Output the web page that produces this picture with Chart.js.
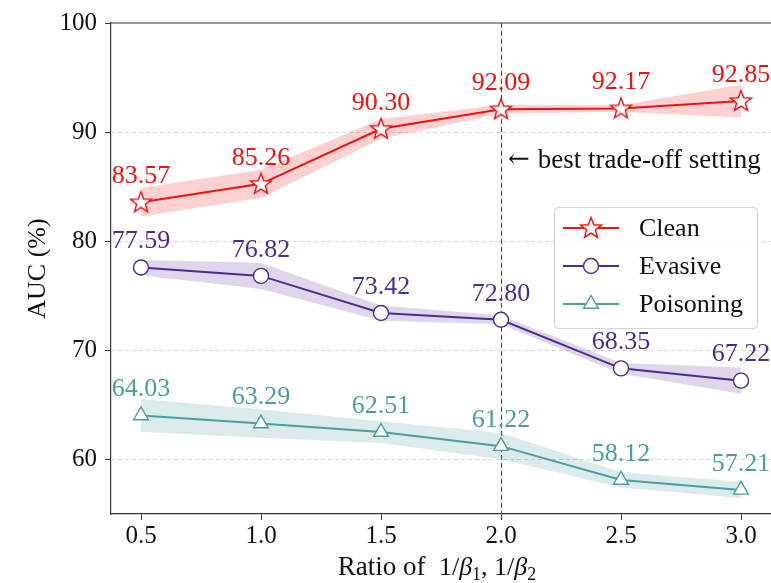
<!DOCTYPE html>
<html>
<head>
<meta charset="utf-8">
<script src="https://cdn.jsdelivr.net/npm/chart.js@4/dist/chart.umd.min.js"></script>
<style>
  body { margin: 0; background: #fff; }
  #wrap { width: 771px; height: 583px; position: relative; }
</style>
</head>
<body>
<div id="wrap"><canvas id="auc-chart"></canvas></div>
<script>
// data
const ratios = [0.5, 1.0, 1.5, 2.0, 2.5, 3.0];
const cleanAuc = [83.57, 85.26, 90.30, 92.09, 92.17, 92.85];
const evasiveAuc = [77.59, 76.82, 73.42, 72.80, 68.35, 67.22];
const poisonAuc = [64.03, 63.29, 62.51, 61.22, 58.12, 57.21];
// half-width of the shaded bands
const cleanErr = [1.3, 1.3, 0.9, 0.4, 0.3, 1.5];
const evasiveErr = [0.7, 1.2, 0.7, 0.4, 0.5, 1.2];
const poisonErr = [1.5, 1.3, 1.0, 1.2, 0.7, 0.75];
const yTicks = [60, 70, 80, 90, 100];
const seriesNames = ["Clean", "Evasive", "Poisoning"];

const FONT = "'Liberation Serif', 'DejaVu Serif', serif";
const RED = "#ee1111";
const PURPLE = "#4e2b92";
const TEAL = "#4b9da0";

//5-point star marker drawn on a small canvas
const makeStar = (color) => {
  const c = document.createElement("canvas");
  c.width = 26;
  c.height = 26;
  const g = c.getContext("2d");
  g.beginPath();
  for (let i = 0; i < 10; i++) {
    const r = i % 2 === 0 ? 11 : 4.6;
    const a = -Math.PI / 2 + (i * Math.PI) / 5;
    const px = 13 + r * Math.cos(a);
    const py = 13.5 + r * Math.sin(a);
    if (i === 0) g.moveTo(px, py);
    else g.lineTo(px, py);
  }
  g.closePath();
  g.fillStyle = "white";
  g.fill();
  g.lineWidth = 1.4;
  g.strokeStyle = color;
  g.stroke();
  return c;
};
const starImg = makeStar(RED);

const pts = (vals) => vals.map((v, i) => ({ x: ratios[i], y: v }));
const band = (vals, err, sign) => vals.map((v, i) => ({ x: ratios[i], y: v + sign * err[i] }));

const lineSet = (label, vals, color, style, radius) => ({
  label: label,
  data: pts(vals),
  borderColor: color,
  backgroundColor: "white",
  borderWidth: 2,
  pointStyle: style,
  pointRadius: radius,
  pointBorderWidth: 1.4,
  pointBorderColor: color,
  pointBackgroundColor: "white",
  tension: 0,
  fill: false,
});
const bandSet = (vals, err, sign, fillColor) => ({
  label: "",
  data: band(vals, err, sign),
  borderWidth: 0,
  borderColor: "transparent",
  pointRadius: 0,
  backgroundColor: fillColor,
  fill: sign < 0 ? "-1" : false,
});

const datasets = [
  lineSet(seriesNames[0], cleanAuc, RED, starImg, 11),
  lineSet(seriesNames[1], evasiveAuc, PURPLE, "circle", 7.5),
  lineSet(seriesNames[2], poisonAuc, TEAL, "triangle", 8.5),
  bandSet(cleanAuc, cleanErr, 1, "rgba(255,40,40,0.22)"),
  bandSet(cleanAuc, cleanErr, -1, "rgba(255,40,40,0.22)"),
  bandSet(evasiveAuc, evasiveErr, 1, "rgba(110,70,170,0.22)"),
  bandSet(evasiveAuc, evasiveErr, -1, "rgba(110,70,170,0.22)"),
  bandSet(poisonAuc, poisonErr, 1, "rgba(75,157,160,0.2)"),
  bandSet(poisonAuc, poisonErr, -1, "rgba(75,157,160,0.2)"),
];

const extrasPlugin = {
  id: "extras",
  beforeDatasetsDraw(chart) {
    const { ctx, chartArea: a, scales } = chart;
    ctx.save();
    // dashed horizontal grid
    ctx.strokeStyle = "#d6d6d6";
    ctx.lineWidth = 1;
    ctx.setLineDash([4, 3]);
    yTicks.forEach((v) => {
      if (v === 100) return;
      const y = Math.round(scales.y.getPixelForValue(v)) + 0.5;
      ctx.beginPath();
      ctx.moveTo(a.left, y);
      ctx.lineTo(a.right, y);
      ctx.stroke();
    });
    // vertical dashed marker at 2.0
    const xm = Math.round(scales.x.getPixelForValue(2.0)) + 0.5;
    ctx.strokeStyle = "#555";
    ctx.lineWidth = 1.2;
    ctx.setLineDash([5, 3]);
    ctx.beginPath();
    ctx.moveTo(xm, a.top);
    ctx.lineTo(xm, a.bottom);
    ctx.stroke();
    ctx.restore();
  },
  afterDatasetsDraw(chart) {
    const { ctx, chartArea: a, scales } = chart;
    ctx.save();
    // value labels
    ctx.font = "26px " + FONT;
    ctx.textAlign = "center";
    ctx.textBaseline = "middle";
    for (let d = 0; d < 3; d++) {
      const meta = chart.getDatasetMeta(d);
      const ds = chart.data.datasets[d];
      ctx.fillStyle = ds.borderColor;
      meta.data.forEach((p, i) => {
        ctx.fillText(ds.data[i].y.toFixed(2), p.x, p.y - 26);
      });
    }
    // x tick labels
    ctx.fillStyle = "#111";
    ctx.font = "25px " + FONT;
    ctx.textBaseline = "top";
    ratios.forEach((v) => {
      ctx.fillText(v.toFixed(1), scales.x.getPixelForValue(v), a.bottom + 10);
    });
    // annotation
    ctx.textBaseline = "middle";
    ctx.textAlign = "left";
    const ax = scales.x.getPixelForValue(2.0) + 7;
    ctx.font = "26px 'DejaVu Serif'";
    ctx.fillText("\u2190", ax, 160);
    const aw = ctx.measureText("\u2190").width + 8;
    ctx.font = "27px " + FONT;
    ctx.fillText("best trade-off setting", ax + aw, 161);

    // top frame line
    ctx.strokeStyle = "#333";
    ctx.lineWidth = 1.2;
    ctx.beginPath();
    ctx.moveTo(a.left, a.top);
    ctx.lineTo(a.right, a.top);
    ctx.stroke();

    // legend box
    const lx = 554, ly = 207, lw = 203, lh = 121;
    ctx.fillStyle = "rgba(255,255,255,0.85)";
    ctx.strokeStyle = "#d4d4d4";
    ctx.lineWidth = 1;
    ctx.beginPath();
    ctx.roundRect(lx + 0.5, ly + 0.5, lw, lh, 4);
    ctx.fill();
    ctx.stroke();
    const rowY = [228, 266, 304];
    ctx.font = "26px " + FONT;
    ctx.textBaseline = "middle";
    for (let d = 0; d < 3; d++) {
      const ds = chart.data.datasets[d];
      const y = rowY[d];
      ctx.strokeStyle = ds.borderColor;
      ctx.lineWidth = 2;
      ctx.beginPath();
      ctx.moveTo(563, y);
      ctx.lineTo(619, y);
      ctx.stroke();
      if (d === 0) {
        ctx.drawImage(starImg, 591 - 13, y - 13);
      } else {
        ctx.fillStyle = "white";
        ctx.lineWidth = 1.4;
        Chart.helpers.drawPoint(ctx, { pointStyle: ds.pointStyle, radius: ds.pointRadius, rotation: 0, borderWidth: 1.4 }, 591, y);
      }
      ctx.fillStyle = "#111";
      ctx.textAlign = "left";
      ctx.fillText(ds.label, 639, y + 1);
    }

    // axis titles
    ctx.fillStyle = "#111";
    ctx.font = "26px " + FONT;
    ctx.textAlign = "center";
    ctx.save();
    ctx.translate(38, (a.top + a.bottom) / 2);
    ctx.rotate(-Math.PI / 2);
    ctx.fillText("AUC (%)", 0, 0);
    ctx.restore();

    // x title with italic beta and subscripts
    const parts = [
      { t: "Ratio of  ", f: "27px " + FONT, dy: 0 },
      { t: "1/", f: "26px " + FONT, dy: 0 },
      { t: "\u03b2", f: "italic 26px " + FONT, dy: 0 },
      { t: "1", f: "18px " + FONT, dy: 5 },
      { t: ", 1/", f: "26px " + FONT, dy: 0 },
      { t: "\u03b2", f: "italic 26px " + FONT, dy: 0 },
      { t: "2", f: "18px " + FONT, dy: 5 },
    ];
    let total = 0;
    parts.forEach((p) => {
      ctx.font = p.f;
      p.w = ctx.measureText(p.t).width;
      total += p.w;
    });
    let x = (a.left + a.right) / 2 - total / 2 - 4;
    ctx.textAlign = "left";
    ctx.textBaseline = "alphabetic";
    parts.forEach((p) => {
      ctx.font = p.f;
      ctx.fillText(p.t, x, 575 + p.dy);
      x += p.w;
    });
    ctx.restore();
  },
};

new Chart(document.getElementById("auc-chart"), {
  type: "line",
  data: { datasets: datasets },
  options: {
    responsive: true,
    maintainAspectRatio: false,
    animation: false,
    layout: { autoPadding: false, padding: { top: 22, right: 0, left: 0, bottom: 0 } },
    plugins: {
      legend: { display: false },
      tooltip: { enabled: false },
    },
    scales: {
      x: {
        type: "linear",
        min: 0.375,
        max: 3.125,
        afterBuildTicks: (s) => {
          s.ticks = ratios.map((v) => ({ value: v }));
        },
        afterFit: (s) => {
          s.height = 69;
        },
        ticks: { display: false },
        grid: {
          drawOnChartArea: false,
          tickLength: 6,
          tickColor: "#333",
        },
        border: { color: "#333", width: 1.2 },
      },
      y: {
        min: 55,
        max: 100,
        afterBuildTicks: (s) => {
          s.ticks = yTicks.map((v) => ({ value: v }));
        },
        afterFit: (s) => {
          s.width = 111;
        },
        ticks: {
          font: { family: FONT, size: 25 },
          color: "#111",
          padding: 8,
        },
        grid: {
          drawOnChartArea: false,
          tickLength: 6,
          tickColor: "#333",
        },
        border: { color: "#333", width: 1.2 },
      },
    },
  },
  plugins: [extrasPlugin],
});
</script>
</body>
</html>
